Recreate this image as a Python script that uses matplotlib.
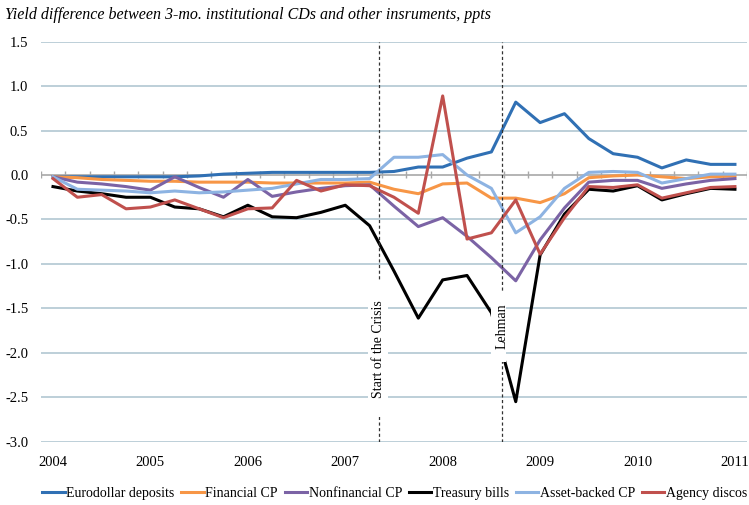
import matplotlib.pyplot as plt
import numpy as np
from matplotlib.patches import Rectangle

plt.rcParams['font.family'] = ['Liberation Serif', 'DejaVu Serif']

# quarterly, 2004Q1 .. 2011Q1
years = ['2004', '2005', '2006', '2007', '2008', '2009', '2010', '2011']
eurodollar = [-0.02, -0.02, -0.02, -0.02, -0.02, -0.02, -0.01, 0.01, 0.02, 0.03, 0.03, 0.03, 0.03, 0.03,
              0.04, 0.09, 0.09, 0.19, 0.26, 0.82, 0.59, 0.69, 0.41, 0.24, 0.20, 0.08, 0.17, 0.12, 0.12]
financial_cp = [-0.02, -0.03, -0.05, -0.06, -0.07, -0.07, -0.08, -0.08, -0.08, -0.09, -0.09, -0.09, -0.09, -0.08,
                -0.16, -0.21, -0.10, -0.09, -0.26, -0.26, -0.31, -0.21, -0.03, -0.01, 0.0, -0.02, -0.04, -0.02, -0.01]
nonfin_cp = [-0.02, -0.08, -0.10, -0.13, -0.17, -0.02, -0.14, -0.25, -0.05, -0.24, -0.19, -0.15, -0.12, -0.11,
             -0.35, -0.58, -0.48, -0.69, -0.93, -1.19, -0.73, -0.37, -0.08, -0.06, -0.06, -0.15, -0.10, -0.06, -0.04]
tbills = [-0.13, -0.18, -0.21, -0.25, -0.25, -0.36, -0.38, -0.47, -0.34, -0.47, -0.48, -0.42, -0.34, -0.57,
          -1.08, -1.61, -1.18, -1.13, -1.55, -2.55, -0.90, -0.44, -0.16, -0.18, -0.12, -0.28, -0.21, -0.15, -0.16]
abcp = [-0.02, -0.16, -0.17, -0.18, -0.20, -0.18, -0.20, -0.19, -0.17, -0.15, -0.10, -0.05, -0.05, -0.04,
        0.20, 0.20, 0.23, 0.0, -0.15, -0.65, -0.47, -0.15, 0.03, 0.04, 0.03, -0.09, -0.04, 0.01, 0.01]
agency = [-0.04, -0.25, -0.22, -0.38, -0.36, -0.28, -0.38, -0.48, -0.38, -0.37, -0.06, -0.18, -0.11, -0.12,
          -0.25, -0.43, 0.89, -0.72, -0.65, -0.28, -0.89, -0.48, -0.13, -0.14, -0.11, -0.26, -0.20, -0.14, -0.13]

series = [('Eurodollar deposits', eurodollar, '#3070b4'),
          ('Financial CP', financial_cp, '#f79646'),
          ('Nonfinancial CP', nonfin_cp, '#7b63a5'),
          ('Treasury bills', tbills, '#000000'),
          ('Asset-backed CP', abcp, '#8db3e2'),
          ('Agency discos', agency, '#c0504d')]

x = np.arange(len(eurodollar))

fig = plt.figure(figsize=(7.49, 5.05), dpi=100)
ax = fig.add_axes([0.0545, 0.1254, 0.943, 0.792])

for yv in [1.5, 1.0, 0.5, -0.5, -1.0, -1.5, -2.0, -2.5, -3.0]:
    ax.axhline(yv, color='#b8cbd6', lw=1.3, zorder=1)
ax.axhline(0, color='#a8a8a8', lw=1.2, zorder=1)
ax.vlines(np.arange(-0.5, len(x)), -0.03, 0.04, color='#a8a8a8', lw=1.0, zorder=1)

for name, vals, col in series:
    ax.plot(x, vals, color=col, lw=2.2, label=name, zorder=2)

# event markers
crisis_x = 13.38
lehman_x = 18.42
ax.axvline(crisis_x, color='#333333', lw=0.9, ls=(0, (2.5, 2)), zorder=3)
ax.axvline(lehman_x, color='#333333', lw=0.9, ls=(0, (2.5, 2)), zorder=3)
ax.add_patch(Rectangle((12.95, -2.72), 0.8, 1.53, facecolor='white', edgecolor='none', zorder=4))
ax.add_patch(Rectangle((18.0, -2.1), 0.62, 0.8, facecolor='white', edgecolor='none', zorder=4))
ax.text(crisis_x, -1.96, 'Start of the Crisis', rotation=90, ha='center', va='center',
        fontsize=10, zorder=5)
ax.text(lehman_x, -1.70, 'Lehman', rotation=90, ha='center', va='center',
        fontsize=10, zorder=5)

ax.set_xlim(-0.5, len(x) - 0.5)
ax.set_ylim(-3.0, 1.5)
ax.set_yticks(np.arange(-3.0, 1.51, 0.5))
ax.set_yticklabels(['%.1f' % v for v in np.arange(-3.0, 1.51, 0.5)], fontsize=10.5)
ax.set_xticks(np.arange(0, len(x), 4))
ax.set_xticklabels(years, fontsize=10.5)
ax.tick_params(axis='both', length=0)
ax.tick_params(axis='y', pad=9)
ax.tick_params(axis='x', pad=10)
for s in ax.spines.values():
    s.set_visible(False)

fig.text(0.007, 0.97, 'Yield difference between 3-mo. institutional CDs and other insruments, ppts',
         fontsize=11.5, style='italic', ha='left', va='center')

fig.legend(loc='lower center', bbox_to_anchor=(0.527, -0.014), ncol=6, frameon=False,
           fontsize=10, handlelength=1.6, handletextpad=0.12, columnspacing=0.5)

plt.savefig('out.png', dpi=100)
